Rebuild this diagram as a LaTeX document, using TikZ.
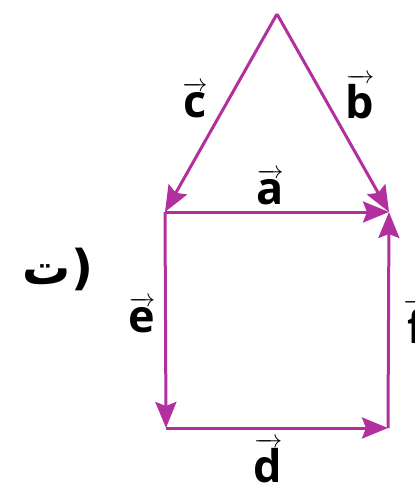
\documentclass[tikz,border=0pt]{standalone}
\usepackage{amsmath}
\usepackage{fontspec}
\setsansfont{Open Sans}
\newfontfamily\arabicfont[Script=Arabic]{DejaVu Sans}
\TeXXeTstate=1
\usetikzlibrary{arrows.meta}
\definecolor{vecmag}{RGB}{178,48,158}
\newcommand{\vlab}[1]{$\overrightarrow{\text{\sffamily\bfseries #1}\mathstrut}$}

\begin{document}
\begin{tikzpicture}[
    x=1pt, y=-1pt,
    vec/.style={draw=vecmag, line width=3pt, -{Stealth[length=26pt, width=21pt, inset=4pt]}},
    letter/.style={anchor=base, inner sep=0pt, font=\fontsize{45}{50}\selectfont}
]
\useasboundingbox (0,0) rectangle (415,491);

% Corners of the figure
\coordinate (apex) at (277,14);
\coordinate (tl) at (165,212);
\coordinate (tr) at (389,212);
\coordinate (bl) at (166,428);
\coordinate (br) at (388,428);

% Vectors
\draw[vec] (apex) -- (tl);
\draw[vec] (apex) -- (tr);
\draw[vec] (tl) -- (tr);
\draw[vec] (tl) -- (bl);
\draw[vec] (bl) -- (br);
\draw[vec] (br) -- (tr);

% Labels
\node[letter] (labc) at (195,117) {\vlab{c}};
\node[letter] (labb) at (360,118) {\vlab{b}};
\node[letter] (laba) at (270,204) {\vlab{a}};
\node[letter] (labe) at (142,332) {\vlab{e}};
\node[letter] (labd) at (268,482) {\vlab{d}};
\node[letter] (labf) at (416,343) {\vlab{f}};

% Part marker
\node[letter, font=\fontsize{48}{56}\selectfont\arabicfont\bfseries] (part) at (58,284) {\beginR (ت\endR};

\end{tikzpicture}
\end{document}
